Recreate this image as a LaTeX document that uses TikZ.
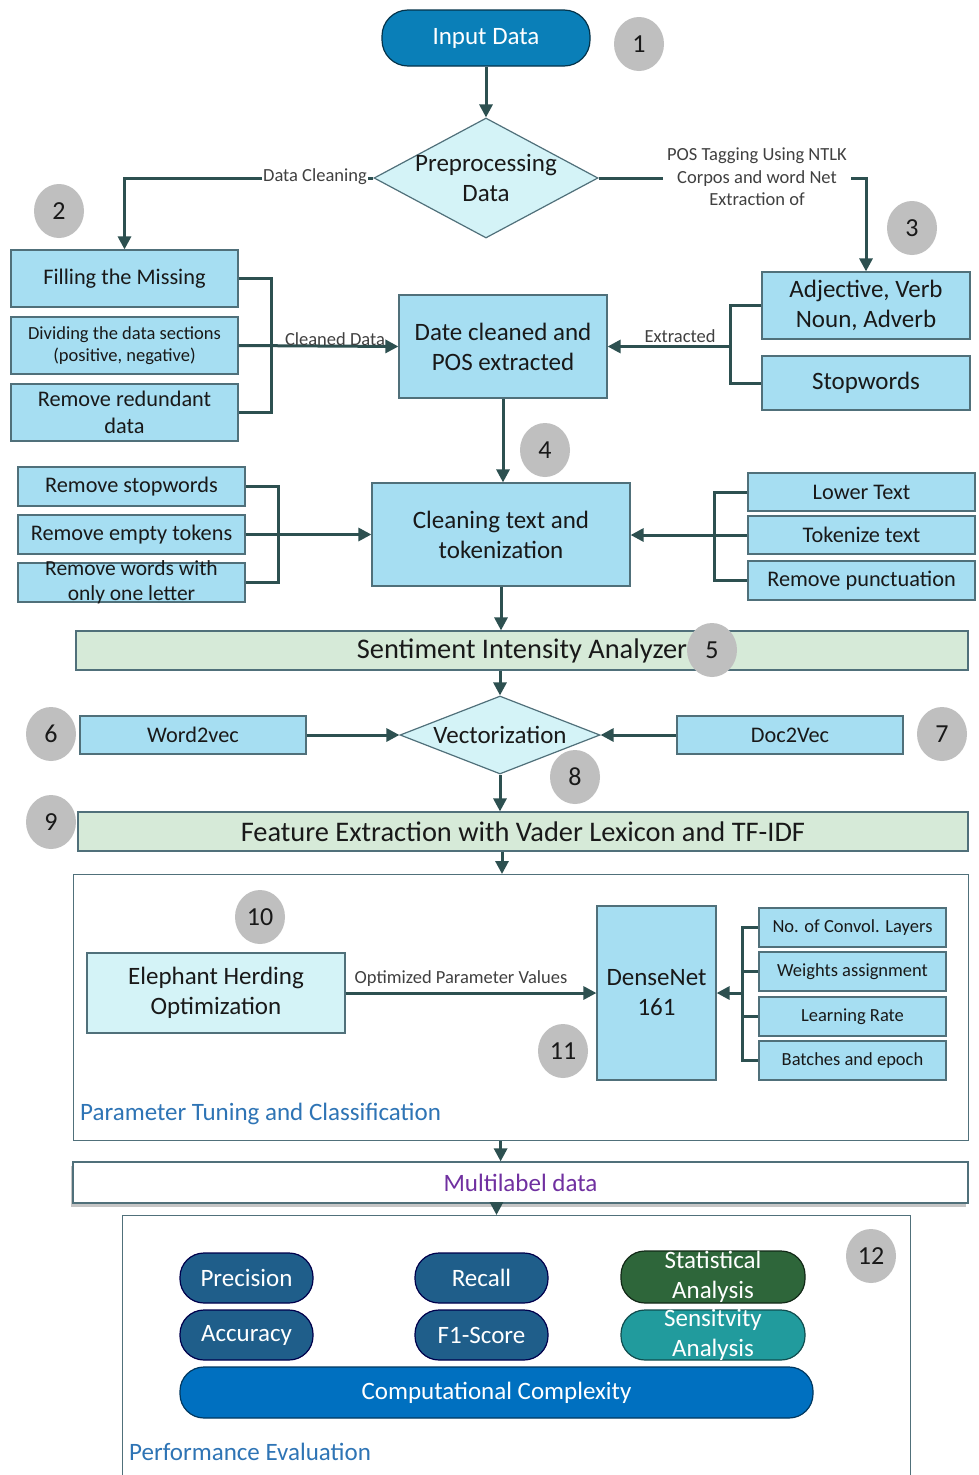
\documentclass[tikz,border=0pt]{standalone}
\usepackage{fontspec}
\setmainfont{Carlito}
\usetikzlibrary{arrows.meta,shapes.geometric,shadows}

\definecolor{inblue}{RGB}{10,127,184}
\definecolor{lcyan}{RGB}{212,243,247}
\definecolor{lblue}{RGB}{166,222,242}
\definecolor{lgreen}{RGB}{214,234,216}
\definecolor{pdblue}{RGB}{31,94,138}
\definecolor{pgreen}{RGB}{46,102,58}
\definecolor{pteal}{RGB}{33,155,157}
\definecolor{pblue}{RGB}{0,112,192}
\definecolor{linec}{RGB}{45,80,80}
\definecolor{bordc}{RGB}{80,112,122}
\definecolor{badgec}{RGB}{191,191,191}
\definecolor{secblue}{RGB}{46,116,181}
\definecolor{mlpurple}{RGB}{112,48,160}
\definecolor{lblgray}{RGB}{64,64,64}
\definecolor{txt}{RGB}{25,25,25}

\tikzset{
  fbig/.style={font=\fontsize{25}{30}\selectfont},
  fband/.style={font=\fontsize{28.4}{33}\selectfont},
  fmid/.style={font=\fontsize{22.3}{26.5}\selectfont},
  fsmall/.style={font=\fontsize{18.5}{22.5}\selectfont},
  box/.style={draw=bordc, line width=1.2pt, fill=lblue, inner sep=0pt,
    align=center, text=txt, rectangle},
  cbox/.style={box, fill=lcyan},
  band/.style={box, fill=lgreen, fband},
  dia/.style={diamond, draw=bordc, line width=1.2pt, fill=lcyan, inner sep=0pt},
  pill/.style={rectangle, rounded corners=24pt, draw=black!70!blue, line width=1.2pt,
    inner sep=0pt, text=white, fbig, align=center},
  frame/.style={draw=bordc, line width=1.2pt, fill=white, inner sep=0pt},
  conn/.style={draw=linec, line width=3pt},
  arr/.style={conn, -{Triangle[length=13pt,width=13pt]}},
  lbl/.style={text=lblgray, fsmall, inner sep=1pt, align=center},
  badge/.style={ellipse, fill=badgec, minimum width=50pt, minimum height=54pt,
    inner sep=0pt, text=txt, font=\fontsize{26}{30}\selectfont},
  sect/.style={text=secblue, fbig, anchor=west, inner sep=0pt}
}

\begin{document}
\begin{tikzpicture}[x=1pt,y=-1pt]
\useasboundingbox[fill=white] (0,0) rectangle (979,1475);

% --- input and preprocessing ---
\node[pill, fill=inblue, draw=black!60!inblue, minimum width=208pt, minimum height=56pt,
      rounded corners=26pt] (inp) at (486,38) {Input Data};
\node[dia, minimum width=224pt, minimum height=120pt] (pre) at (486,178) {};
\node[fbig, align=center, text=txt] (pretxt) at (486,178) {Preprocessing\\Data};
\draw[arr] (inp.south) -- (pre.north);

% --- cleaning branch (left) ---
\node[box, fmid, minimum width=227pt, minimum height=57pt] (fill) at (124.5,278.5) {Filling the Missing};
\node[box, fsmall, minimum width=227pt, minimum height=57pt] (div) at (124.5,345.5) {Dividing the data sections\\(positive, negative)};
\node[box, fmid, minimum width=227pt, minimum height=57pt] (red) at (124.5,412.5) {Remove redundant\\data};

\draw[arr] (pre.west) -| (fill.north);
\node[lbl, fill=white] (dclbl) at (315,177) {Data Cleaning};

% --- POS branch (right) ---
\node[box, fbig, minimum width=208pt, minimum height=67pt] (adj) at (866,305.5) {Adjective, Verb\\Noun, Adverb};
\node[box, fbig, minimum width=208pt, minimum height=54pt] (stw) at (866,383) {Stopwords};
\draw[arr] (pre.east) -| (adj.north);
\node[lbl, fill=white, inner sep=4pt] (poslbl) at (757,177) {POS Tagging Using NTLK\\Corpos and word Net\\Extraction of};

% --- merged data ---
\node[box, fbig, minimum width=208pt, minimum height=103pt] (dcp) at (503,346.5) {Date cleaned and\\POS extracted};
\draw[conn] (fill.east) -- ++(33,0) |- (red.east);
\draw[arr] (div.east) -- (dcp.west);
\node[lbl, anchor=south] (cdlbl) at (335,347) {Cleaned Data};

\coordinate (jr1) at (730,346.5);
\draw[conn] (adj.west) -- (adj.west -| jr1) |- (stw.west);
\draw[arr] (jr1) -- (dcp.east);
\node[lbl, anchor=south] (exlbl) at (680,344) {Extracted};

% --- cleaning text and tokenization ---
\node[box, fbig, minimum width=258pt, minimum height=103pt] (cln) at (501,534.5) {Cleaning text and\\tokenization};
\draw[arr] (dcp.south) -- (dcp.south |- cln.north);

\node[box, fmid, minimum width=227pt, minimum height=39pt] (rsw) at (131.5,486.5) {Remove stopwords};
\node[box, fmid, minimum width=227pt, minimum height=39pt] (ret) at (131.5,534.5) {Remove empty tokens};
\node[box, minimum width=227pt, minimum height=39pt] (rwo) at (131.5,582.5) {};
\node[align=center, text=txt, font=\fontsize{21.5}{25}\selectfont] (rwotxt) at (131.5,582) {Remove words with\\only one letter};
\draw[conn] (rsw.east) -- ++(33,0) |- (rwo.east);
\draw[arr] (ret.east) -- (cln.west);

\node[box, fmid, minimum width=227pt, minimum height=38pt] (low) at (861.5,492) {Lower Text};
\node[box, fmid, minimum width=227pt, minimum height=38pt] (tok) at (861.5,535) {Tokenize text};
\node[box, fmid, minimum width=227pt, minimum height=39pt] (rpu) at (861.5,580.5) {Remove punctuation};
\draw[conn] (low.west) -- ++(-33,0) |- (rpu.west);
\draw[arr] (tok.west) -- (tok.west -| cln.east);

% --- sentiment ---
\node[band, minimum width=892pt, minimum height=39pt] (sia) at (522,650.5) {};
\node[fband, text=txt] (siatxt) at (522,650.5) {Sentiment Intensity Analyzer};
\draw[arr] (cln.south) -- (cln.south |- sia.north);

% --- vectorization ---
\node[dia, minimum width=200pt, minimum height=78pt] (vec) at (500,735) {};
\node[fbig, text=txt] (vectxt) at (500,735) {Vectorization};
\draw[arr] (sia.south -| vec.north) -- (vec.north);
\node[box, fmid, minimum width=226pt, minimum height=38pt] (w2v) at (193,735) {Word2vec};
\node[box, fmid, minimum width=226pt, minimum height=38pt] (d2v) at (790,735) {Doc2Vec};
\draw[arr] (w2v.east) -- (vec.west);
\draw[arr] (d2v.west) -- (vec.east);

% --- feature extraction ---
\node[band, minimum width=890pt, minimum height=39pt] (fea) at (523,831.5) {Feature Extraction with Vader Lexicon and TF-IDF};
\draw[arr] (vec.south) -- (vec.south |- fea.north);

% --- parameter tuning and classification ---
\node[frame, minimum width=895pt, minimum height=266pt, anchor=north west] (param) at (73,874) {};
\draw[arr] ([xshift=-21pt]fea.south) coordinate (fa) -- (fa |- param.north);
\node[sect] (ptlbl) at (80,1114) {Parameter Tuning and Classification};

\node[cbox, fbig, minimum width=258pt, minimum height=80pt] (eho) at (216,993) {Elephant Herding\\Optimization};
\node[box, fbig, minimum width=119pt, minimum height=174pt] (dn) at (656.5,993) {DenseNet\\161};
\draw[arr] (eho.east) -- (dn.west);
\node[lbl, anchor=south] (oplbl) at (461,988) {Optimized Parameter Values};

\node[box, fsmall, minimum width=187pt, minimum height=39pt] (ncl) at (852.5,927.5) {No. of Convol. Layers};
\node[box, fsmall, minimum width=187pt, minimum height=39pt] (wa) at (852.5,971.5) {Weights assignment};
\node[box, fsmall, minimum width=187pt, minimum height=39pt] (lr) at (852.5,1016.5) {Learning Rate};
\node[box, fsmall, minimum width=187pt, minimum height=39pt] (be) at (852.5,1060.5) {Batches and epoch};
\coordinate (jd) at (742,993);
\draw[conn] (ncl.west) -- (ncl.west -| jd) |- (be.west);
\draw[conn] (wa.west) -- (wa.west -| jd);
\draw[conn] (lr.west) -- (lr.west -| jd);
\draw[arr] (jd) -- (dn.east);

% --- multilabel data ---
\node[frame, drop shadow={shadow xshift=-2pt, shadow yshift=-4pt, opacity=0.45},
      minimum width=895pt, minimum height=41pt, text=mlpurple, fbig] (mld) at (520.5,1182.5) {Multilabel data};
\draw[arr] ([xshift=-20.5pt]param.south) coordinate (pa) -- (pa |- mld.north);

% --- performance evaluation ---
\node[frame, minimum width=788pt, minimum height=275pt, anchor=north west] (perf) at (122,1215) {};
\node[sect] (pelbl) at (129,1452) {Performance Evaluation};

\node[pill, fill=pdblue, minimum width=133pt, minimum height=50pt] (prec) at (246.5,1278) {Precision};
\node[pill, fill=pdblue, minimum width=133pt, minimum height=50pt] (rec) at (481.5,1278) {Recall};
\node[pill, fill=pgreen, draw=black!60!pgreen, minimum width=184pt, minimum height=52pt] (sta) at (713,1277) {};
\node[fbig, text=white, align=center] (statxt) at (713,1277) {Statistical\\Analysis};
\node[pill, fill=pdblue, minimum width=133pt, minimum height=50pt] (acc) at (246.5,1335) {Accuracy};
\node[pill, fill=pdblue, minimum width=133pt, minimum height=50pt] (f1) at (481.5,1335) {F1-Score};
\node[pill, fill=pteal, draw=black!50!pteal, minimum width=184pt, minimum height=50pt] (sen) at (713,1335) {};
\node[fbig, text=white, align=center] (sentxt) at (713,1335) {Sensitvity\\Analysis};
\node[pill, fill=pblue, draw=black!50!pblue, minimum width=633pt, minimum height=51pt] (cc) at (496.5,1392.5) {Computational Complexity};

\draw[arr] (mld.south -| cc.north) -- (perf.north -| cc.north);

% --- step numbers ---
\node[badge] (b1) at (639,44) {1};
\node[badge] (b2) at (59,211) {2};
\node[badge] (b3) at (912,228) {3};
\node[badge] (b4) at (545,450) {4};
\node[badge] (b5) at (712,650) {5};
\node[badge] (b6) at (51,734) {6};
\node[badge] (b7) at (942,734) {7};
\node[badge] (b8) at (575,777) {8};
\node[badge] (b9) at (51,822) {9};
\node[badge] (b10) at (260,917) {10};
\node[badge] (b11) at (563,1051) {11};
\node[badge] (b12) at (871,1256) {12};
\end{tikzpicture}
\end{document}
